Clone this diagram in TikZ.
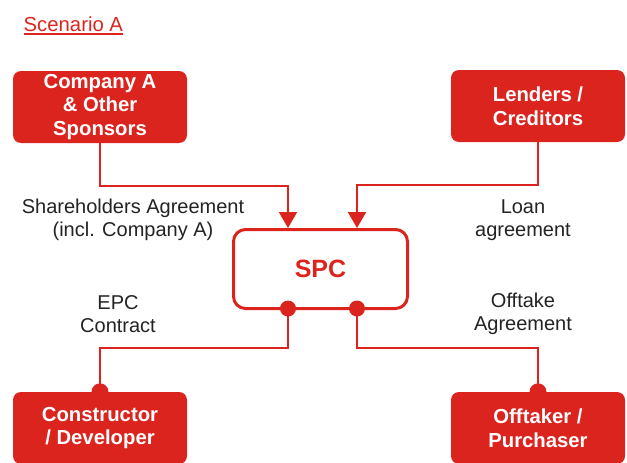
\documentclass[tikz,border=0pt]{standalone}
\usepackage{fontspec}
\setmainfont{Liberation Sans}
\usetikzlibrary{arrows.meta,calc}
\definecolor{brandred}{RGB}{220,36,31}
\definecolor{labelgray}{RGB}{35,35,35}

\begin{document}
\begin{tikzpicture}[x=1pt,y=1pt,
  party/.style={fill=brandred, rounded corners=8pt, minimum width=174pt,
    minimum height=72pt, inner sep=0pt, align=center, text=white,
    font=\bfseries\fontsize{20.3}{23.5}\selectfont},
  hub/.style={draw=brandred, line width=3pt, fill=white, rounded corners=12pt,
    minimum width=174pt, minimum height=79pt, text=brandred,
    font=\bfseries\fontsize{25}{28}\selectfont},
  deal/.style={align=center, text=labelgray, inner sep=0pt,
    font=\fontsize{20}{23.5}\selectfont},
  conn/.style={draw=brandred, line width=2pt},
  feed/.style={conn, -{Triangle[width=18pt,length=16pt]}},
  dot/.style={fill=brandred}
]
\useasboundingbox (0,0) rectangle (627,-463);

% title
\node[anchor=base west, inner sep=0pt, text=brandred,
  font=\fontsize{20.3}{24}\selectfont] (title) at (23.5,-31) {Scenario A};
\draw[brandred, line width=1.3pt] ($(title.base west)+(0,-3)$) -- ($(title.base east)+(0,-3)$);

% parties
\node[party] (sponsors) at (100,-107) {Company A\\\& Other\\Sponsors};
\node[party] (lenders) at (538,-106) {Lenders /\\Creditors};
\node[party] (constructor) at (100,-428) {Constructor\\/ Developer};
\node[party] (offtaker) at (538,-428) {Offtaker /\\Purchaser};

% special purpose company
\node[hub] (spc) at (320.5,-269) {SPC};

% contract labels
\node[deal] (sha) at (133,-220) {Shareholders Agreement\\(incl. Company A)};
\node[deal] (loan) at (523,-220) {Loan\\agreement};
\node[deal] (epc) at (118,-314) {EPC\\Contract};
\node[deal] (offtake) at (523,-314) {Offtake\\Agreement};

% connector ends on the SPC
\coordinate (inL) at ($(spc.north)+(-32.5,0)$);
\coordinate (inR) at ($(spc.north)+(36.5,0)$);
\coordinate (outL) at ($(spc.south)+(-32.5,0)$);
\coordinate (outR) at ($(spc.south)+(36.5,0)$);

% equity and debt flowing in
\draw[feed] (sponsors.south) -- ++(0,-43) -| (inL);
\draw[feed] (lenders.south) -- ++(0,-43) -| (inR);

% contracts going out
\draw[conn] (outL) -- ++(0,-38) -| (constructor.north);
\draw[conn] (outR) -- ++(0,-38) -| (offtaker.north);

% contract end points
\fill[dot] ($(outL)+(0,1.5)$) circle (8pt);
\fill[dot] ($(outR)+(0,1.5)$) circle (8pt);
\fill[dot] (constructor.north) circle (8.5pt);
\fill[dot] (offtaker.north) circle (8.5pt);
\end{tikzpicture}
\end{document}
